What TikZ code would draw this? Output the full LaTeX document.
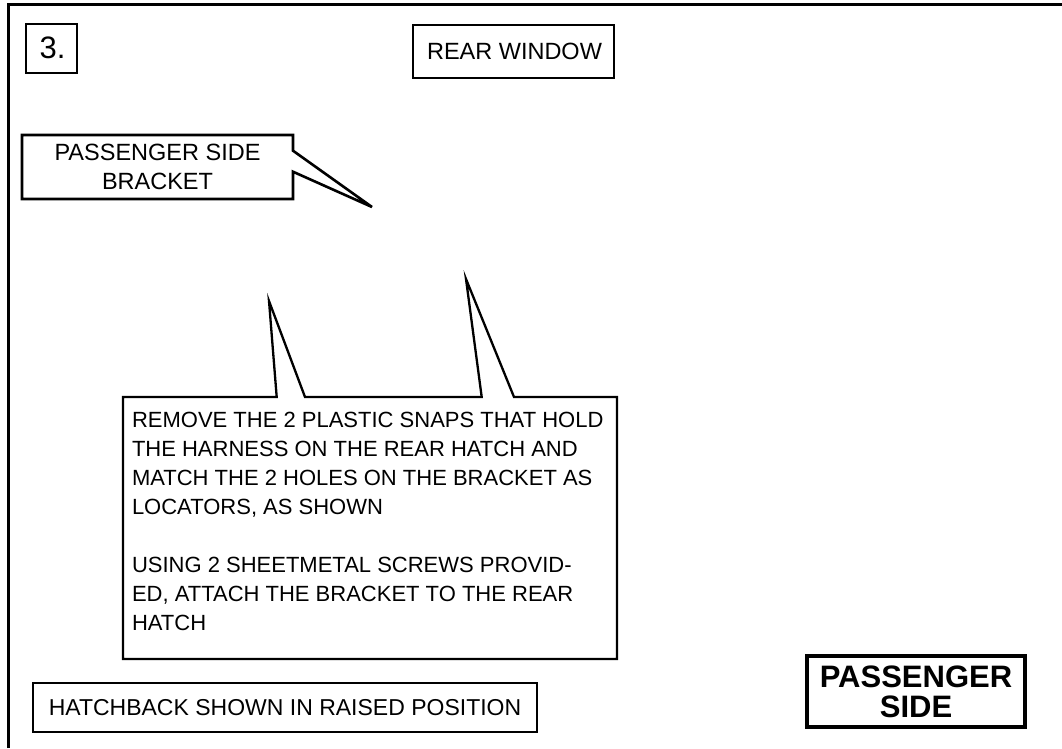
\documentclass[tikz,border=0pt]{standalone}
\usepackage{fontspec}
\setmainfont{Liberation Sans}
\begin{document}
\begin{tikzpicture}[x=1pt,y=-1pt,line join=miter,
  lbl/.style={inner sep=0pt,outer sep=0pt,font=\fontsize{23}{29}\selectfont},
  framebox/.style={draw,line width=2pt,inner sep=0pt,outer sep=0pt},
  calloutline/.style={draw,line width=2.4pt}]
\useasboundingbox (0,0) rectangle (1062,748);
\fill[white] (0,0) rectangle (1062,748);
% outer frame (top and left)
\coordinate (fbl) at (8.5,748);
\coordinate (ftl) at (8.5,4.5);
\coordinate (ftr) at (1062,4.5);
\draw[line width=2.5pt] (fbl) -- (ftl) -- (ftr);
% step number
\node[framebox,lbl,minimum width=51pt,minimum height=49pt] (num) at (51.3,48.5) {};
\node[lbl,font=\fontsize{31}{30}\selectfont,anchor=base] (numtxt) at (52.5,58) {3.};
% rear window
\node[framebox,lbl,font=\fontsize{23.5}{29}\selectfont,minimum width=201pt,minimum height=53pt] (rear) at (513.5,51.3) {\hspace*{2pt}REAR WINDOW};
% passenger side bracket callout
\node[lbl,font=\fontsize{23.5}{29}\selectfont,align=center,minimum width=271pt,minimum height=64pt] (bracket) at (157.5,167) {PASSENGER SIDE\\BRACKET};
\coordinate (btip) at (372,207);
\draw[calloutline,line width=2.6pt] (bracket.north west) -- (bracket.north east) -- ([yshift=-15.7pt]bracket.north east) -- (btip) -- ([yshift=-36.7pt]bracket.north east) -- (bracket.south east) -- (bracket.south west) -- cycle;
% instruction note
\node[lbl,font=\fontsize{22}{29}\selectfont,align=left,anchor=north west] (note) at (132,412) {REMOVE THE 2 PLASTIC SNAPS THAT HOLD\\THE HARNESS ON THE REAR HATCH AND\\MATCH THE 2 HOLES ON THE BRACKET AS\\LOCATORS, AS SHOWN\\[29pt]USING 2 SHEETMETAL SCREWS PROVID-\\ED, ATTACH THE BRACKET TO THE REAR\\HATCH};
\coordinate (tipa) at (269,301);
\coordinate (tipb) at (466,279);
\draw[calloutline,line width=2.3pt] (123,397) -- (276.7,397) -- (tipa) -- (305,397) -- (481.7,397) -- (tipb) -- (514,397) -- (617,397) -- (617,659) -- (123,659) -- cycle;
% hatchback note
\node[framebox,lbl,minimum width=504pt,minimum height=49pt] (hatch) at (285,707.5) {HATCHBACK SHOWN IN RAISED POSITION};
% passenger side label
\node[framebox,line width=4pt,lbl,font=\bfseries\fontsize{31}{30}\selectfont,align=center,minimum width=218pt,minimum height=71pt] (pside) at (916,691.5) {PASSENGER\\SIDE};
\end{tikzpicture}
\end{document}
